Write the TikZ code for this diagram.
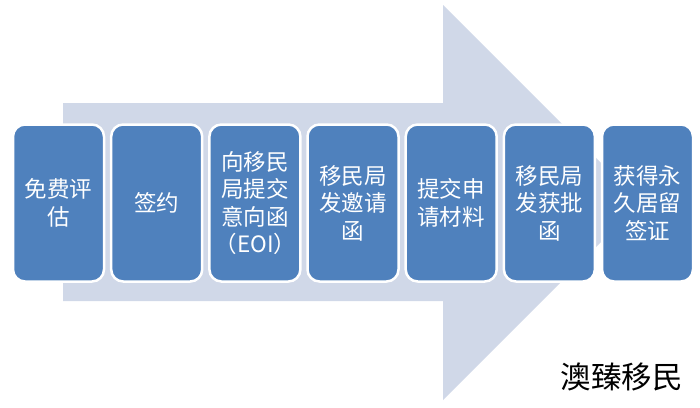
\documentclass[tikz,border=0pt]{standalone}
\usepackage{fontspec}
\newfontfamily\cjk{Noto Sans CJK SC}
\definecolor{arrowc}{RGB}{208,216,232}
\definecolor{boxc}{RGB}{79,129,189}
\begin{document}
\begin{tikzpicture}[x=1pt,y=-1pt,
  stepbox/.style={draw=white, line width=2.5pt, fill=boxc, rounded corners=12pt,
    minimum width=91pt, minimum height=157pt, inner sep=0pt, text=white,
    font=\cjk\fontsize{22.5}{27.5}\selectfont, align=center, text width=80pt},
  brand/.style={font=\cjk\fontsize{30.5}{33}\selectfont, text=black, inner sep=0pt}]
\useasboundingbox (0,0) rectangle (700,407);
\fill[white] (0,0) rectangle (700,407);
\fill[arrowc] (63,103) -- (443,103) -- (443,5) -- (640.5,202.5) -- (443,400) -- (443,301) -- (63,301) -- cycle;
\node[stepbox] (s1) at (58.5,203) {免费评\\估};
\node[stepbox] (s2) at (156.7,203) {签约};
\node[stepbox] (s3) at (254.9,203) {向移民\\局提交\\意向函\\（EOI）};
\node[stepbox] (s4) at (353.0,203) {移民局\\发邀请\\函};
\node[stepbox] (s5) at (451.2,203) {提交申\\请材料};
\node[stepbox] (s6) at (549.4,203) {移民局\\发获批\\函};
\node[stepbox] (s7) at (647.5,203) {获得永\\久居留\\签证};
\node[brand] (b) at (621.5,377) {澳臻移民};
\end{tikzpicture}
\end{document}
